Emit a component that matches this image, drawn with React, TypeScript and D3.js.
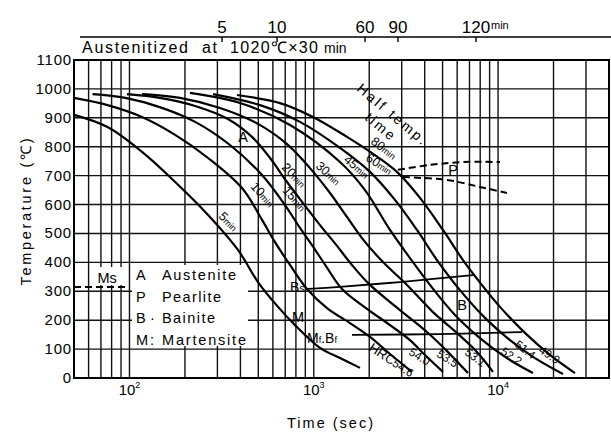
import React, { useEffect, useRef } from 'react';
import * as d3 from 'd3';

type Pt = [number, number]; // [time (sec), temperature (℃)]

const FONT = '"Liberation Sans", Arial, Helvetica, sans-serif';

// cooling curves, named by half temp. time (min)
const halfTimes = ['5', '10', '15', '20', '30', '45', '60', '80'];

const curve5: Pt[] = [[50, 910], [76, 868], [117, 782], [177, 678], [267, 564], [388, 443], [498, 332], [640, 246], [791, 183], [1081, 104], [1388, 69], [1782, 35]];
const curve10: Pt[] = [[50, 969], [76, 944], [117, 903], [177, 841], [267, 761], [408, 657], [524, 547], [616, 470], [743, 391], [919, 308], [1180, 242], [1572, 190], [2019, 142], [2592, 83], [3412, 21]];
const curve15: Pt[] = [[63, 982], [95, 969], [146, 937], [227, 886], [351, 806], [524, 702], [698, 598], [842, 519], [978, 460], [1165, 387], [1423, 308], [1920, 242], [2592, 183], [3327, 131], [3963, 83], [5025, 21]];
const curve20: Pt[] = [[97, 982], [146, 969], [227, 941], [342, 896], [462, 834], [579, 761], [716, 678], [874, 605], [1081, 529], [1337, 457], [1612, 391], [2019, 322], [2936, 235], [4114, 159], [5284, 93], [6866, 17]];
const curve30: Pt[] = [[117, 982], [188, 969], [310, 934], [498, 879], [716, 809], [954, 726], [1225, 640], [1514, 557], [1826, 484], [2375, 401], [3205, 322], [4435, 228], [5985, 156], [7684, 90], [9385, 21]];
const curve45: Pt[] = [[213, 986], [398, 951], [743, 875], [1388, 747], [1897, 650], [2592, 512], [3327, 415], [4272, 322], [5839, 218], [7978, 138], [10906, 73], [15472, 17]];
const curve60: Pt[] = [[284, 982], [511, 944], [842, 886], [1388, 796], [2019, 713], [2759, 616], [3631, 512], [4662, 408], [6216, 304], [8494, 208], [11607, 131], [15858, 69], [22508, 14]];
const curve80: Pt[] = [[383, 979], [656, 951], [990, 903], [1514, 834], [2070, 778], [2828, 713], [3770, 623], [5025, 512], [6451, 408], [7785, 339], [10244, 246], [13996, 156], [19118, 80], [26142, 17]];

const coolingCurves: Pt[][] = [curve5, curve10, curve15, curve20, curve30, curve45, curve60, curve80];

// where the "xxmin" labels sit, and their tilt
const halfTimeLabelAt: Pt[] = [[302, 557], [451, 661], [672, 647], [664, 726], [1015, 730], [1441, 751], [1897, 754], [2019, 813]];
const halfTimeLabelTilt = [45, 48, 48, 45, 42, 40, 32, 37];

// hardness at the end of the curves 10..80 min
const hrcValues = ['54.6', '54.0', '53.5', '53.1', '52.2', '51.4', '49.9'];
const hrcLabelAt: Pt[] = [[1969, 97], [3246, 83], [4605, 76], [6534, 83], [10244, 86], [12198, 111], [16470, 90]];
const hrcLabelTilt = [33, 32, 32, 36, 34, 38, 34];

// transformation lines
const msLine: Pt[] = [[50, 315], [100, 315]];
const bsLine: Pt[] = [[930, 308], [1388, 315], [2936, 332], [7311, 356]];
const bfLine: Pt[] = [[1612, 149], [4842, 152], [13486, 159]];
const pearliteStart: Pt[] = [[2864, 720], [4272, 737], [6451, 747], [10244, 747]];
const pearliteEnd: Pt[] = [[3049, 695], [5284, 685], [7978, 661], [11180, 640]];

// axes
const gridTimes = [60, 70, 80, 90, 100, 200, 300, 400, 500, 600, 700, 800, 900, 1000,
  2000, 3000, 4000, 5000, 6000, 7000, 8000, 9000, 10000, 20000, 30000];
const tempTicks = d3.range(0, 1101, 100);
const decadeTicks = [100, 1000, 10000];
const topTickLabels = ['5', '10', '60', '90', '120'];
const topTickSec = [318, 632, 1897, 2864, 7590];

const legendKeys = ['A', 'P', 'B', 'M'];
const legendSeps = ['', '', '·', ':'];
const legendNames = ['Austenite', 'Pearlite', 'Bainite', 'Martensite'];

const CCTChart: React.FC = () => {
  const svgRef = useRef<SVGSVGElement>(null);

  useEffect(() => {
    if (!svgRef.current) return;
    const svg = d3.select(svgRef.current);
    svg.selectAll('*').remove();

    const x = d3.scaleLog().domain([50, 40000]).range([74, 609]);
    const y = d3.scaleLinear().domain([0, 1100]).range([378, 60]);

    svg.append('rect').attr('width', 611).attr('height', 432).attr('fill', '#fff');

    // grid
    const grid = svg.append('g').attr('stroke', '#111').attr('stroke-width', 1.4);
    grid.selectAll('line.v').data(gridTimes).join('line')
      .attr('x1', d => x(d)).attr('x2', d => x(d))
      .attr('y1', y(1100)).attr('y2', y(0));
    grid.selectAll('line.h').data(tempTicks).join('line')
      .attr('x1', x(50)).attr('x2', x(40000))
      .attr('y1', d => y(d)).attr('y2', d => y(d));

    svg.append('rect')
      .attr('x', x(50)).attr('y', y(1100))
      .attr('width', x(40000) - x(50)).attr('height', y(0) - y(1100))
      .attr('fill', 'none').attr('stroke', '#000').attr('stroke-width', 2);

    // white boxes behind legend and Ms
    svg.append('rect').attr('x', 132).attr('y', 265).attr('width', 116).attr('height', 81).attr('fill', '#fff');
    svg.append('rect').attr('x', 94).attr('y', 267).attr('width', 28).attr('height', 18).attr('fill', '#fff');

    const line = d3.line<Pt>().x(d => x(d[0])).y(d => y(d[1])).curve(d3.curveCatmullRom.alpha(0.5));

    svg.append('g').selectAll('path').data(coolingCurves).join('path')
      .attr('d', d => line(d))
      .attr('fill', 'none').attr('stroke', '#000').attr('stroke-width', 2.2);

    [bsLine, bfLine].forEach(l => {
      svg.append('path').attr('d', line(l)).attr('fill', 'none')
        .attr('stroke', '#000').attr('stroke-width', 1.8);
    });
    [msLine, pearliteStart, pearliteEnd].forEach(l => {
      svg.append('path').attr('d', line(l)).attr('fill', 'none')
        .attr('stroke', '#000').attr('stroke-width', 2).attr('stroke-dasharray', '7,4');
    });

    type Part = { t: string; size: number; dy?: number };
    const addText = (px: number, py: number, parts: Part[], anchor = 'start', rot = 0, len = 0) => {
      const el = svg.append('text')
        .attr('transform', `translate(${px},${py}) rotate(${rot})`)
        .attr('text-anchor', anchor).attr('font-family', FONT).attr('fill', '#000');
      parts.forEach(p => el.append('tspan').attr('font-size', p.size).attr('dy', p.dy || 0).text(p.t));
      if (len) el.attr('textLength', len).attr('lengthAdjust', 'spacing');
      return el;
    };

    // y ticks
    tempTicks.forEach(t => {
      addText(72, y(t) + 5, [{ t: String(t), size: 15 }], 'end').attr('letter-spacing', 0.8);
    });
    // x decade labels
    decadeTicks.forEach(t => {
      addText(x(t), 395, [{ t: '10', size: 15 }, { t: String(Math.log10(t)), size: 9, dy: -7 }], 'middle');
    });

    // axis titles
    addText(330, 428, [{ t: 'Time (sec)', size: 14.5 }], 'middle', 0, 86);
    addText(31, 212, [{ t: 'Temperature (℃)', size: 14.5 }], 'middle', -90, 147);

    // top minute axis
    svg.append('line').attr('x1', 80).attr('x2', 611).attr('y1', 37).attr('y2', 37)
      .attr('stroke', '#000').attr('stroke-width', 1.6);
    topTickSec.forEach((s, i) => {
      svg.append('line').attr('x1', x(s)).attr('x2', x(s)).attr('y1', 37).attr('y2', 42)
        .attr('stroke', '#000').attr('stroke-width', 1.4);
      addText(x(s), 33, [{ t: topTickLabels[i], size: 17 }], 'middle');
    });
    addText(x(topTickSec[4]) + 15, 29, [{ t: 'min', size: 11 }]);

    // heading
    addText(82, 53, [{ t: 'Austenitized', size: 16 }], 'start', 0, 106);
    addText(202, 53, [{ t: 'at', size: 16 }], 'start', 0, 15);
    addText(230, 53, [{ t: '1020℃×30', size: 16 }], 'start', 0, 88);
    addText(324, 53, [{ t: 'min', size: 14 }]);

    // legend
    legendKeys.forEach((k, i) => {
      const by = 280 + i * 21.5;
      addText(136, by, [{ t: k, size: 14.5 }]);
      if (legendSeps[i]) addText(150, by, [{ t: legendSeps[i], size: 14.5 }]);
      addText(162, by, [{ t: legendNames[i], size: 14.5 }], 'start', 0, [74, 59, 53, 84][i]);
    });

    // region and line labels
    addText(x(413), y(816), [{ t: 'A', size: 14.5 }], 'middle');
    addText(x(5694), y(702), [{ t: 'P', size: 14.5 }], 'middle');
    addText(x(6372), y(235), [{ t: 'B', size: 14.5 }], 'middle');
    addText(x(67), y(329), [{ t: 'Ms', size: 14.5 }]);
    addText(x(743), y(297), [{ t: 'B', size: 14 }, { t: 's', size: 10.5 }]);
    addText(x(762), y(194), [{ t: 'M', size: 14.5 }]);
    addText(x(919), y(121), [
      { t: 'M', size: 14 }, { t: 'f', size: 9 }, { t: '.B', size: 14 }, { t: 'f', size: 9 },
    ]);

    // half temp. time header
    addText(x(1694), y(996), [{ t: 'Half  temp.', size: 14 }], 'start', 40, 86);
    addText(x(1873), y(896), [{ t: 'time', size: 14 }], 'start', 40, 34);

    halfTimes.forEach((h, i) => {
      const [s, t] = halfTimeLabelAt[i];
      addText(x(s), y(t), [{ t: h, size: 12.5 }, { t: 'min', size: 9 }], 'start', halfTimeLabelTilt[i]);
    });

    hrcValues.forEach((v, i) => {
      const [s, t] = hrcLabelAt[i];
      const parts: Part[] = i === 0 ? [{ t: 'HRC', size: 13 }, { t: v, size: 11.5 }] : [{ t: v, size: 11.5 }];
      addText(x(s), y(t), parts, 'start', hrcLabelTilt[i]);
    });
  }, []);

  return (
    <svg
      ref={svgRef}
      width={611}
      height={432}
      style={{ position: 'absolute', left: 0, top: 0, display: 'block' }}
    />
  );
};

export default function App() {
  return <CCTChart />;
}
